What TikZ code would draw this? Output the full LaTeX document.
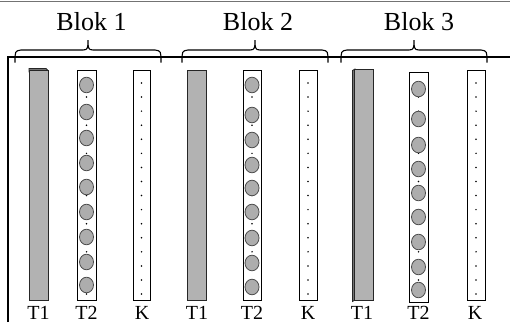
\documentclass[tikz,border=0pt]{standalone}
\usepackage{fontspec}
\setmainfont{Liberation Serif}

\tikzset{
  frameline/.style={line width=1.7pt, black},
  topline/.style={line width=0.8pt, black!55},
  colbox/.style={draw=black, line width=0.9pt, fill=white},
  barbox/.style={draw=black!85, line width=1pt, fill=black!30},
  bardepth/.style={draw=black!85, line width=0.8pt, fill=black!55},
  bead/.style={draw=black!70, line width=0.8pt, fill=black!32},
  pin/.style={fill=black, circle, inner sep=0pt, minimum size=1.7pt},
  bracepath/.style={line width=1.1pt, black},
  bloklabel/.style={font=\fontsize{26}{30}\selectfont, anchor=base, inner sep=0pt},
  collabel/.style={font=\fontsize{20}{24}\selectfont, anchor=base, inner sep=0pt},
}

% curly brace: left end, tip, right end
\newcommand\blockbrace[3]{%
  \draw[bracepath] (#1,62.5) .. controls (#1,51) .. (#1+6,50) -- (#2-5,50)
    .. controls (#2,50) and (#2,47.5) .. (#2,40)
    .. controls (#2,47.5) and (#2,50) .. (#2+5,50) -- (#3-6,50)
    .. controls (#3,51) .. (#3,62.5);}

% column with a row of pins: left, right, top, bottom
\newcommand\pincolumn[4]{%
  \draw[colbox] (#1,#3) rectangle (#2,#4);
  \foreach \k in {0,...,15}
    \node[pin] at ({(#1+#2)/2}, 83+14.07*\k) {};}

% beads over a pin column: centre x, list of centre y
\newcommand\beads[2]{%
  \foreach \yy in {#2}
    \draw[bead] (#1,\yy) ellipse [x radius=7pt, y radius=7.8pt];}

\begin{document}
\begin{tikzpicture}[x=1pt, y=-1pt]
  \useasboundingbox (0,0) rectangle (510,322);

  % outer lines
  \draw[topline] (0,1) -- (510,1);
  \coordinate (fl) at (8,322);
  \coordinate (fc) at (8,57);
  \coordinate (fr) at (510,57);
  \draw[frameline] (fl) -- (fc) -- (fr);

  % ---------- block 1 ----------
  \blockbrace{15}{88}{161}
  \node[bloklabel] (b1) at (91.5,30) {Blok 1};
  \draw[bardepth] (29,68.5) -- (46,68.5) -- (48,70.5) -- (48,72) -- (29,72) -- cycle;
  \draw[barbox] (29,70) rectangle (48,300);
  \pincolumn{77}{96}{70}{300}
  \beads{86.5}{85,112,138,163,187,212,237,262,285}
  \pincolumn{133}{150}{70}{300}
  \node[collabel] (t11) at (38.5,319) {T1};
  \node[collabel] (t21) at (86.5,319) {T2};
  \node[collabel] (k1)  at (142,319) {K};

  % ---------- block 2 ----------
  \blockbrace{182}{255}{328}
  \node[bloklabel] (b2) at (258,30) {Blok 2};
  \draw[barbox] (187,70) rectangle (206,300);
  \pincolumn{243}{261}{70}{300}
  \beads{252}{85,115,140,165,188,212,238,263,287}
  \pincolumn{299}{317}{70}{300}
  \node[collabel] (t12) at (197,319) {T1};
  \node[collabel] (t22) at (252,319) {T2};
  \node[collabel] (k2)  at (308,319) {K};

  % ---------- block 3 ----------
  \blockbrace{341}{414}{487}
  \node[bloklabel] (b3) at (419,30) {Blok 3};
  \draw[bardepth] (352.5,70.5) -- (355,69) -- (355,300) -- (352.5,301.5) -- cycle;
  \draw[barbox] (354.5,69) rectangle (373,300);
  \pincolumn{409}{428}{72}{302}
  \beads{418.5}{89,119,145,169,193,217,242,267,290}
  \pincolumn{467}{485}{70}{300}
  \node[collabel] (t13) at (362,319) {T1};
  \node[collabel] (t23) at (418.5,319) {T2};
  \node[collabel] (k3)  at (475,319) {K};
\end{tikzpicture}
\end{document}
